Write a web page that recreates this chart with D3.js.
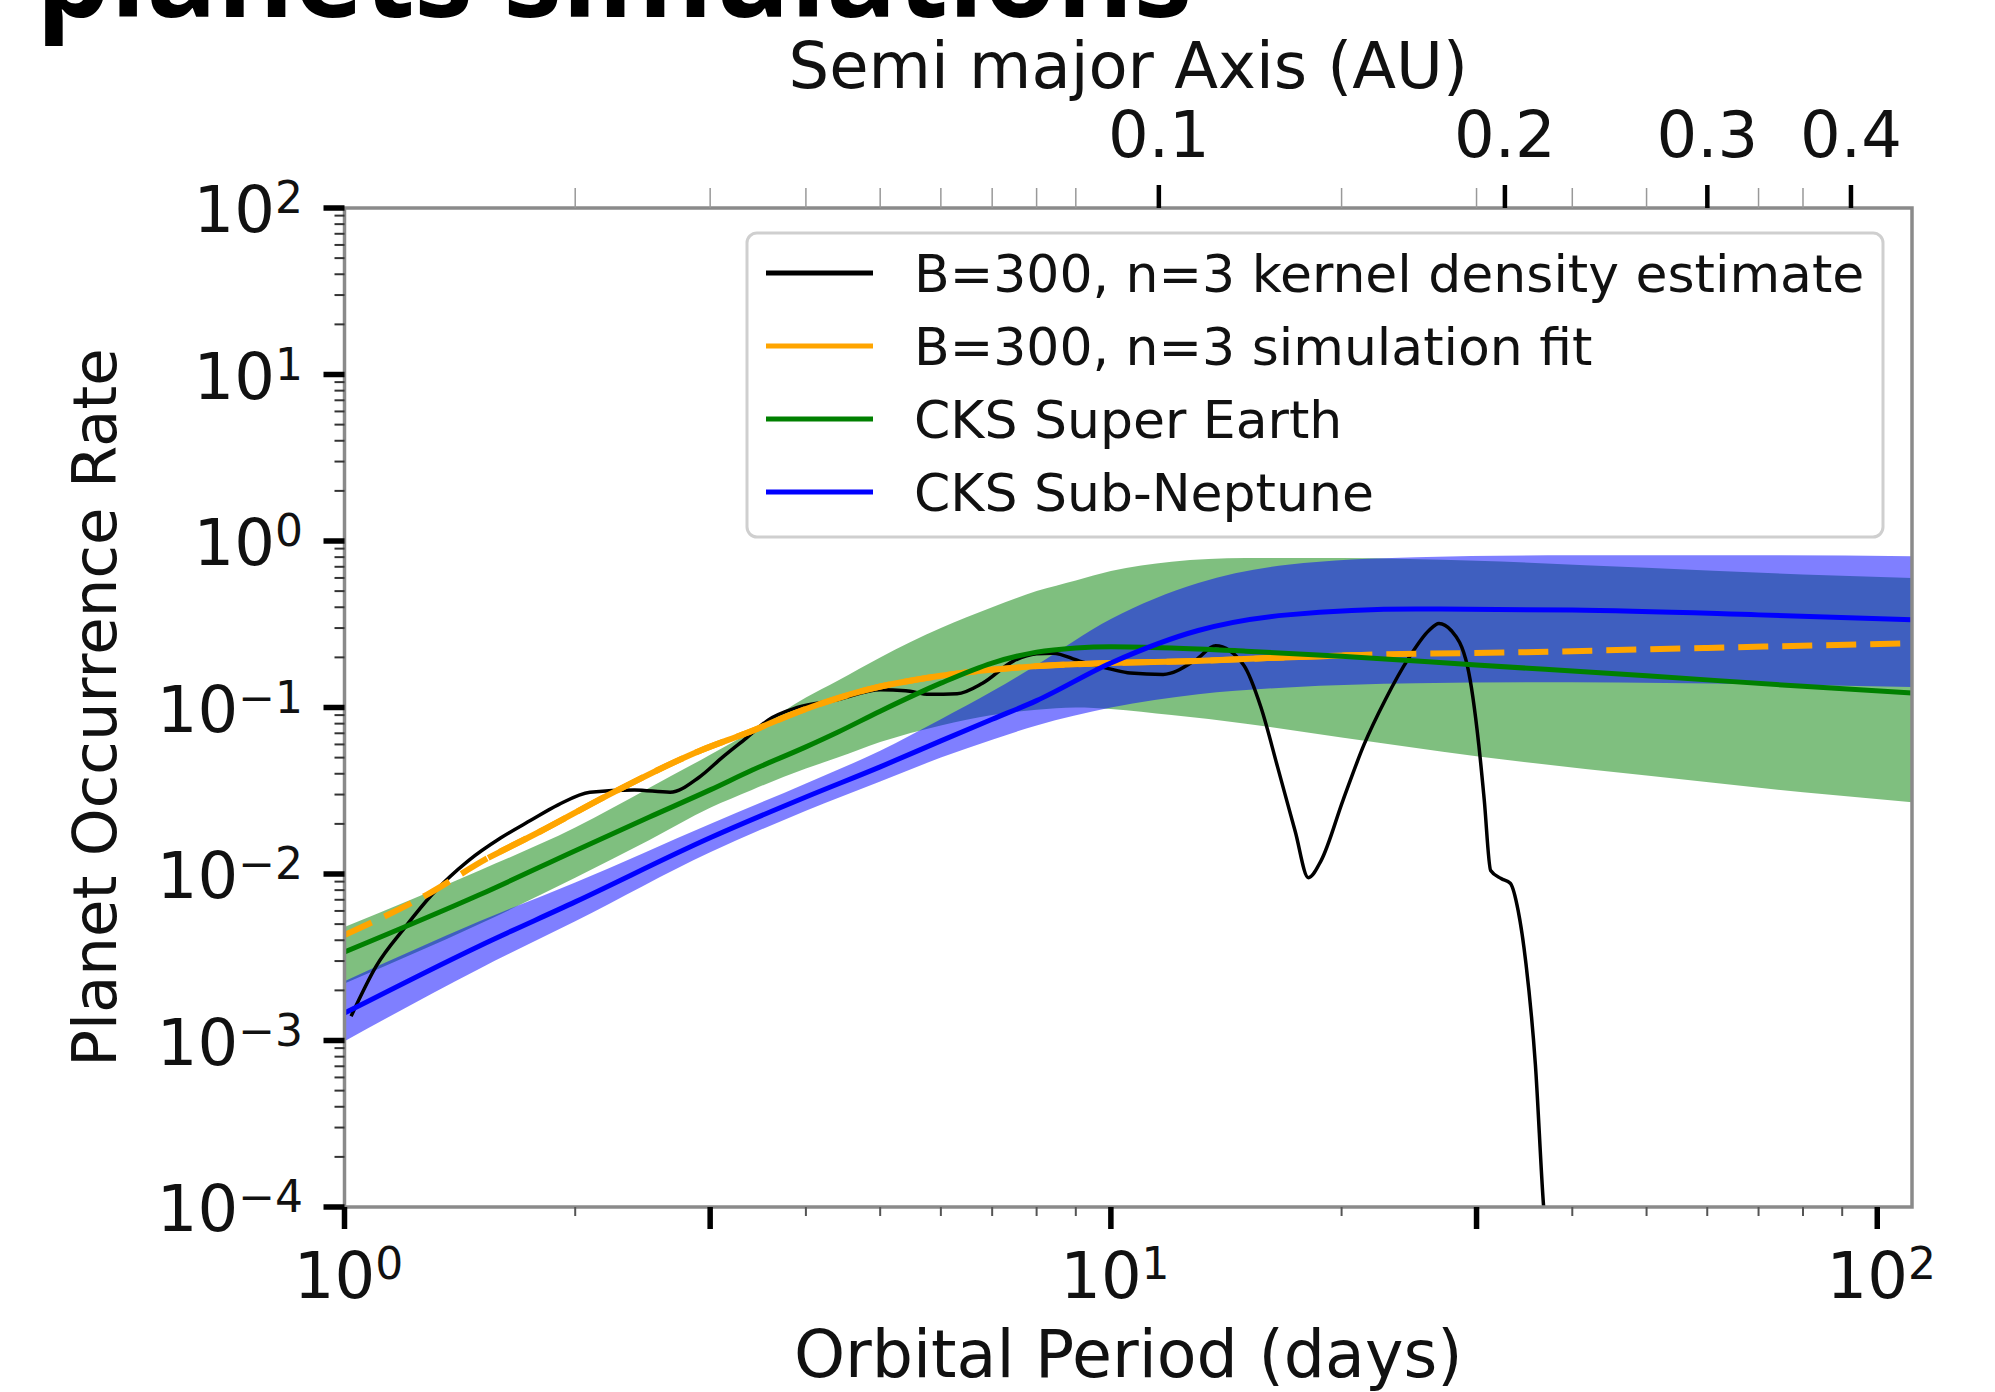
<!DOCTYPE html>
<html>
<head>
<meta charset="utf-8">
<script src="https://cdn.jsdelivr.net/npm/d3@7"></script>
<style>
body { margin: 0; background: #fff; }
svg { display: block; }
text { font-family: "DejaVu Sans", sans-serif; fill: #111; }
</style>
</head>
<body>
<svg id="chart" width="1995" height="1392"></svg>
<script>
// ---- data ----
var kdePeriod = [1.02, 1.1, 1.2, 1.3, 1.45, 1.6, 1.75, 1.9, 2.09, 2.39, 2.66, 2.9, 3.12, 3.35, 3.57, 3.9, 4.38, 5.0, 5.4, 5.8, 6.3, 6.8, 7.46, 8.0, 8.4, 9.1, 10.0, 10.6, 11.7, 12.9, 13.7, 14.9, 15.7, 16.5, 17.4, 18.1, 18.8, 20.1, 21.4, 22.8, 24.5, 26.0, 26.8, 27.8, 29.2, 30.2, 30.7, 31.3, 32.3, 33.2, 34.0, 34.8, 35.8, 36.7, 37.2];
var kdeRate   = [0.0014, 0.0028, 0.0048, 0.0075, 0.012, 0.0165, 0.021, 0.026, 0.031, 0.032, 0.031, 0.038, 0.0507, 0.066, 0.084, 0.1, 0.111, 0.128, 0.126, 0.12, 0.121, 0.14, 0.19, 0.21, 0.212, 0.19, 0.17, 0.161, 0.158, 0.193, 0.235, 0.18, 0.1, 0.044, 0.018, 0.0095, 0.012, 0.028, 0.06, 0.111, 0.2, 0.29, 0.32, 0.29, 0.176, 0.06, 0.028, 0.0105, 0.0094, 0.0088, 0.006, 0.0029, 0.00072, 0.0001, 0.00005];

var fitPeriod = [1.0, 1.28, 1.54, 1.8, 2.23, 2.91, 3.34, 4.0, 4.78, 6.0, 7.85, 10, 12.9, 16, 21.2, 34.8, 60, 111];
var fitRate   = [0.0043, 0.0075, 0.0125, 0.018, 0.0305, 0.055, 0.07, 0.098, 0.127, 0.155, 0.176, 0.185, 0.19, 0.198, 0.207, 0.215, 0.228, 0.243];
var fitSolidRange = [1.54, 21.2];

var sePeriod = [1, 1.5, 2, 2.5, 3, 3.4, 4, 4.4, 5, 6, 7, 8, 9, 10, 12, 15, 20, 30, 50, 80, 111];
var seMid = [0.0034, 0.0075, 0.0138, 0.022, 0.032, 0.042, 0.058, 0.071, 0.095, 0.14, 0.185, 0.215, 0.228, 0.232, 0.228, 0.218, 0.203, 0.18, 0.155, 0.134, 0.122];
var seLo  = [0.0022, 0.005, 0.0095, 0.016, 0.025, 0.032, 0.043, 0.05, 0.062, 0.078, 0.09, 0.097, 0.1, 0.098, 0.09, 0.08, 0.066, 0.051, 0.039, 0.031, 0.027];
var seHi  = [0.0048, 0.0105, 0.019, 0.033, 0.052, 0.072, 0.115, 0.145, 0.2, 0.3, 0.4, 0.5, 0.58, 0.66, 0.75, 0.79, 0.79, 0.76, 0.69, 0.63, 0.6];

var snPeriod = [1, 1.5, 2, 3, 4, 5, 6, 7, 8, 10, 13, 17, 25, 40, 70, 111];
var snMid = [0.00146, 0.0037, 0.0068, 0.0165, 0.029, 0.044, 0.063, 0.085, 0.11, 0.185, 0.29, 0.36, 0.39, 0.385, 0.36, 0.336];
var snLo  = [0.00099, 0.0027, 0.0052, 0.0135, 0.024, 0.036, 0.05, 0.064, 0.078, 0.1, 0.12, 0.132, 0.14, 0.142, 0.138, 0.133];
var snHi  = [0.00227, 0.0052, 0.0089, 0.02, 0.035, 0.055, 0.085, 0.125, 0.18, 0.34, 0.56, 0.72, 0.8, 0.82, 0.82, 0.81];

var legendLabels = ["B=300, n=3 kernel density estimate", "B=300, n=3 simulation fit", "CKS Super Earth", "CKS Sub-Neptune"];
var legendColors = ["#000000", "#ffa500", "#008000", "#0000ff"];

var yExponents = [-4, -3, -2, -1, 0, 1, 2];
var xExponents = [0, 1, 2];
var xMidTicks = [3, 30];
var auTicks = [0.1, 0.2, 0.3, 0.4];
var topMinorPeriods = [2, 3, 4, 5, 6, 7, 8, 9, 20, 30, 40, 50, 70, 80];

// ---- layout ----
var L = 344.5, R = 1912, T = 208, B = 1207;
var svg = d3.select("#chart");

var x = d3.scaleLog().domain([1, 111]).range([L, R]);
var y = d3.scaleLog().domain([1e-4, 1e2]).range([B, T]);
// semi-major axis (AU) for a sun-like star, P in days
function auOf(p) { return Math.pow(p / 365.25, 2 / 3); }
var xa = d3.scaleLog().domain([auOf(1), auOf(111)]).range([L, R]);

function zipRows(p, a, b, c) {
    return p.map(function(v, i) { return {p: v, lo: a[i], mid: b[i], hi: c[i]}; });
}
var seRows = zipRows(sePeriod, seLo, seMid, seHi);
var snRows = zipRows(snPeriod, snLo, snMid, snHi);
var kdeRows = kdePeriod.map(function(p, i) { return {p: p, v: kdeRate[i]}; });
var fitRows = fitPeriod.map(function(p, i) { return {p: p, v: fitRate[i]}; });

svg.append("defs").append("clipPath").attr("id", "plotclip")
    .append("rect").attr("x", L).attr("y", T).attr("width", R - L).attr("height", B - T);

// title, cut off at the top of the slide
svg.append("text")
    .attr("x", 36).attr("y", 17)
    .attr("textLength", 1156).attr("lengthAdjust", "spacingAndGlyphs")
    .style("font-family", "'Open Sans', sans-serif")
    .style("font-weight", "bold").style("font-size", "120px").style("fill", "#000")
    .text("planets simulations");

var plot = svg.append("g").attr("clip-path", "url(#plotclip)");

var band = d3.area()
    .x(function(d) { return x(d.p); })
    .y0(function(d) { return y(d.lo); })
    .y1(function(d) { return y(d.hi); })
    .curve(d3.curveMonotoneX);
var midLine = d3.line()
    .x(function(d) { return x(d.p); })
    .y(function(d) { return y(d.mid); })
    .curve(d3.curveMonotoneX);
var valLine = d3.line()
    .x(function(d) { return x(d.p); })
    .y(function(d) { return y(d.v); })
    .curve(d3.curveMonotoneX);

plot.append("path").datum(seRows).attr("d", band)
    .attr("fill", "#008000").attr("fill-opacity", 0.5);
plot.append("path").datum(snRows).attr("d", band)
    .attr("fill", "#0000ff").attr("fill-opacity", 0.5);

plot.append("path").datum(kdeRows).attr("d", valLine)
    .attr("fill", "none").attr("stroke", "#000").attr("stroke-width", 3.5);

plot.append("path").datum(fitRows).attr("d", valLine)
    .attr("fill", "none").attr("stroke", "#ffa500").attr("stroke-width", 6)
    .attr("stroke-dasharray", "30,14");
plot.append("path").datum(fitRows.filter(function(d) { return d.p >= fitSolidRange[0] && d.p <= fitSolidRange[1]; }))
    .attr("d", valLine)
    .attr("fill", "none").attr("stroke", "#ffa500").attr("stroke-width", 6);

plot.append("path").datum(seRows).attr("d", midLine)
    .attr("fill", "none").attr("stroke", "#008000").attr("stroke-width", 5);
plot.append("path").datum(snRows).attr("d", midLine)
    .attr("fill", "none").attr("stroke", "#0000ff").attr("stroke-width", 5);

// spines
svg.append("rect").attr("x", L).attr("y", T).attr("width", R - L).attr("height", B - T)
    .attr("fill", "none").attr("stroke", "#8a8a8a").attr("stroke-width", 3.5);

var ticks = svg.append("g");
function tick(x1, y1, x2, y2, w, c) {
    ticks.append("line").attr("x1", x1).attr("y1", y1).attr("x2", x2).attr("y2", y2)
        .attr("stroke", c).attr("stroke-width", w);
}

// y ticks
yExponents.forEach(function(e) {
    tick(L - 21, y(Math.pow(10, e)), L, y(Math.pow(10, e)), 5.5, "#000");
    if (e < 2) {
        d3.range(2, 10).forEach(function(m) {
            var v = m * Math.pow(10, e);
            tick(L - 10, y(v), L, y(v), 2, "#333");
        });
    }
});
// bottom ticks
xExponents.forEach(function(e) {
    tick(x(Math.pow(10, e)), B, x(Math.pow(10, e)), B + 22, 5.5, "#000");
});
xMidTicks.forEach(function(p) { tick(x(p), B, x(p), B + 22, 5.5, "#000"); });
[2, 4, 5, 6, 7, 8, 9, 20, 40, 50, 60, 70, 80, 90].forEach(function(p) {
    tick(x(p), B, x(p), B + 9, 2, "#555");
});
// top ticks
topMinorPeriods.forEach(function(p) { tick(x(p), T, x(p), T - 20, 1.5, "#999"); });
auTicks.forEach(function(a) { tick(xa(a), T, xa(a), T - 23, 4.5, "#000"); });

// tick labels
function powLabel(sel, e) {
    sel.append("tspan").text("10");
    sel.append("tspan").attr("dy", -19).style("font-size", "44px")
        .text(e < 0 ? "\u2212" + (-e) : String(e));
}
yExponents.forEach(function(e) {
    var t = svg.append("text").attr("x", 303).attr("y", y(Math.pow(10, e)) + 24)
        .attr("text-anchor", "end").style("font-size", "64px");
    powLabel(t, e);
});
xExponents.forEach(function(e) {
    var t = svg.append("text").attr("x", x(Math.pow(10, e)) + 4).attr("y", 1298)
        .attr("text-anchor", "middle").style("font-size", "64px");
    powLabel(t, e);
});
auTicks.forEach(function(a) {
    svg.append("text").attr("x", xa(a)).attr("y", 157)
        .attr("text-anchor", "middle").style("font-size", "64px").text(String(a));
});

// axis titles
svg.append("text").attr("x", (L + R) / 2).attr("y", 88).attr("text-anchor", "middle")
    .style("font-size", "64px").text("Semi major Axis (AU)");
svg.append("text").attr("x", (L + R) / 2).attr("y", 1377).attr("text-anchor", "middle")
    .style("font-size", "65px").text("Orbital Period (days)");
svg.append("text").attr("transform", "translate(116," + (T + B) / 2 + ") rotate(-90)")
    .attr("text-anchor", "middle").style("font-size", "61px").text("Planet Occurrence Rate");

// legend
var lg = svg.append("g");
lg.append("rect").attr("x", 747).attr("y", 233).attr("width", 1136).attr("height", 304)
    .attr("rx", 10).attr("fill", "#fff").attr("fill-opacity", 0.85)
    .attr("stroke", "#cfcfcf").attr("stroke-width", 3);
legendLabels.forEach(function(lab, i) {
    var cy = 273 + i * 73;
    lg.append("line").attr("x1", 766).attr("x2", 873).attr("y1", cy).attr("y2", cy)
        .attr("stroke", legendColors[i]).attr("stroke-width", 5);
    lg.append("text").attr("x", 914).attr("y", cy + 19).style("font-size", "52px").text(lab);
});
</script>
</body>
</html>
